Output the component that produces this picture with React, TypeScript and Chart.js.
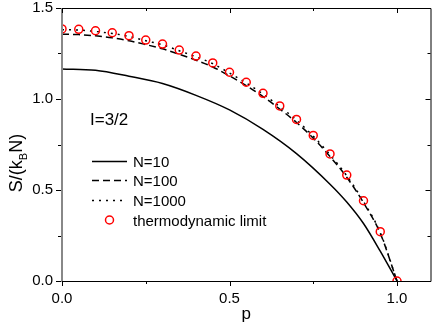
import { useEffect, useRef } from "react";
import { Chart, registerables } from "chart.js";
Chart.register(...registerables);

const pGrid = [0, 0.05, 0.1, 0.15, 0.2, 0.25, 0.3, 0.35, 0.4, 0.45, 0.5, 0.55, 0.6, 0.65, 0.7, 0.75, 0.8, 0.85, 0.9, 0.95, 1.0];
const thermoLimit = [1.385, 1.383, 1.375, 1.364, 1.348, 1.324, 1.302, 1.269, 1.236, 1.198, 1.147, 1.092, 1.031, 0.962, 0.888, 0.8, 0.698, 0.582, 0.441, 0.271, 0.0];
const n1000 = [1.381, 1.379, 1.371, 1.36, 1.344, 1.32, 1.298, 1.265, 1.232, 1.194, 1.143, 1.088, 1.027, 0.958, 0.884, 0.796, 0.694, 0.578, 0.437, 0.266, 0.0];
const n100 = [1.356, 1.354, 1.347, 1.336, 1.32, 1.299, 1.276, 1.246, 1.213, 1.176, 1.127, 1.073, 1.013, 0.945, 0.871, 0.785, 0.684, 0.57, 0.43, 0.262, 0.0];
const pN10 = [0, 0.1, 0.2, 0.3, 0.4, 0.5, 0.6, 0.7, 0.8, 0.85, 0.9, 0.95, 1.0];
const n10 = [1.165, 1.158, 1.125, 1.085, 1.02, 0.94, 0.833, 0.7, 0.532, 0.434, 0.316, 0.164, 0.0];

const xTicks = [0, 0.5, 1.0];
const xMinorTicks = [0.25, 0.75];
const yTicks = [0, 0.5, 1.0, 1.5];
const yMinorTicks = [0.25, 0.75, 1.25];
const legendLabels = ["N=10", "N=100", "N=1000", "thermodynamic limit"];
const annotationText = "I=3/2";
const xTitle = "p";

const FONT = "'Liberation Sans', Arial, sans-serif";
const dashN100 = [7, 4];
const dashN1000 = [2, 5];

const toPts = (xs: number[], ys: number[]) => xs.map((x, i) => ({ x, y: ys[i] }));

const decorPlugin = {
  id: "decor",
  afterDraw(chart: any) {
    const ctx = chart.ctx as CanvasRenderingContext2D;
    const { left, right, top, bottom } = chart.chartArea;
    const xs = chart.scales.x;
    const ys = chart.scales.y;
    ctx.save();
    // frame
    ctx.strokeStyle = "#000";
    ctx.lineWidth = 1;
    ctx.beginPath();
    ctx.moveTo(left, top + 0.5);
    ctx.lineTo(right + 0.5, top + 0.5);
    ctx.lineTo(right + 0.5, bottom + 0.5);
    ctx.lineTo(left, bottom + 0.5);
    ctx.stroke();
    ctx.strokeStyle = "#888";
    ctx.lineWidth = 2;
    ctx.beginPath();
    ctx.moveTo(left, top);
    ctx.lineTo(left, bottom + 1);
    ctx.stroke();
    // ticks
    ctx.strokeStyle = "#000";
    ctx.lineWidth = 1;
    const drawX = (v: number, len: number) => {
      const px = Math.round(xs.getPixelForValue(v)) + 0.5;
      ctx.beginPath();
      ctx.moveTo(px, bottom);
      ctx.lineTo(px, bottom + len);
      ctx.moveTo(px, top);
      ctx.lineTo(px, top + len);
      ctx.stroke();
    };
    const drawY = (v: number, len: number) => {
      const py = Math.round(ys.getPixelForValue(v)) + 0.5;
      ctx.beginPath();
      ctx.moveTo(left - 1, py);
      ctx.lineTo(left - 1 - len, py);
      ctx.moveTo(right, py);
      ctx.lineTo(right - len, py);
      ctx.stroke();
    };
    xTicks.forEach((v) => drawX(v, 5));
    xMinorTicks.forEach((v) => drawX(v, 3));
    yTicks.forEach((v) => drawY(v, 5));
    yMinorTicks.forEach((v) => drawY(v, 3));

    // texts
    ctx.fillStyle = "#000";
    ctx.textBaseline = "alphabetic";
    ctx.textAlign = "left";
    ctx.font = `17px ${FONT}`;
    ctx.fillText(annotationText, 90, 125);

    ctx.textAlign = "center";
    ctx.fillText(xTitle, (left + right) / 2, 319);

    // y title with subscript
    ctx.save();
    ctx.translate(22, 163);
    ctx.rotate(-Math.PI / 2);
    const big = `18px ${FONT}`;
    const small = `11px ${FONT}`;
    ctx.textAlign = "left";
    ctx.font = big;
    const p1 = "S/(k";
    const p3 = "N)";
    const w1 = ctx.measureText(p1).width;
    const w3 = ctx.measureText(p3).width;
    ctx.font = small;
    const w2 = ctx.measureText("B").width;
    const total = w1 + w2 + w3;
    let cx = -total / 2;
    ctx.font = big;
    ctx.fillText(p1, cx, 0);
    cx += w1;
    ctx.font = small;
    ctx.fillText("B", cx, 5);
    cx += w2;
    ctx.font = big;
    ctx.fillText(p3, cx, 0);
    ctx.restore();

    // legend
    const rows = [161, 180, 200, 220];
    const dashes = [[], dashN100, dashN1000];
    ctx.font = `15px ${FONT}`;
    ctx.textAlign = "left";
    for (let i = 0; i < 3; i++) {
      ctx.strokeStyle = "#000";
      ctx.lineWidth = 1.5;
      ctx.setLineDash(dashes[i]);
      ctx.beginPath();
      ctx.moveTo(92, rows[i] + 0.5);
      ctx.lineTo(127, rows[i] + 0.5);
      ctx.stroke();
    }
    ctx.setLineDash([]);
    ctx.strokeStyle = "#ff0000";
    ctx.lineWidth = 1.5;
    ctx.beginPath();
    ctx.arc(109.5, rows[3], 4, 0, Math.PI * 2);
    ctx.stroke();
    ctx.fillStyle = "#000";
    for (let i = 0; i < 4; i++) ctx.fillText(legendLabels[i], 133, rows[i] + 6);
    ctx.restore();
  },
};

export default function App() {
  const ref = useRef<HTMLCanvasElement>(null);
  useEffect(() => {
    if (!ref.current) return;
    const chart = new Chart(ref.current, {
      type: "line",
      data: {
        datasets: [
          {
            label: legendLabels[3],
            data: toPts(pGrid, thermoLimit),
            showLine: false,
            pointRadius: 4,
            pointBorderWidth: 1.5,
            pointBorderColor: "#ff0000",
            pointBackgroundColor: "rgba(0,0,0,0)",
          },
          {
            label: legendLabels[2],
            data: toPts(pGrid, n1000),
            borderColor: "#000",
            borderWidth: 1.5,
            borderDash: dashN1000,
            pointRadius: 0,
            cubicInterpolationMode: "monotone",
          },
          {
            label: legendLabels[1],
            data: toPts(pGrid, n100),
            borderColor: "#000",
            borderWidth: 1.5,
            borderDash: dashN100,
            pointRadius: 0,
            cubicInterpolationMode: "monotone",
          },
          {
            label: legendLabels[0],
            data: toPts(pN10, n10),
            borderColor: "#000",
            borderWidth: 1.5,
            pointRadius: 0,
            cubicInterpolationMode: "monotone",
          },
        ],
      } as any,
      options: {
        animation: false,
        responsive: false,
        devicePixelRatio: 1,
        layout: { padding: { top: 8, right: 3, left: 0, bottom: 0 } },
        plugins: { legend: { display: false }, tooltip: { enabled: false } },
        scales: {
          x: {
            type: "linear",
            min: 0,
            max: 1.1,
            afterBuildTicks: (s: any) => {
              s.ticks = xTicks.map((v) => ({ value: v }));
            },
            afterFit: (s: any) => {
              s.height = 45;
              s.paddingLeft = 0;
              s.paddingRight = 0;
            },
            grid: { display: true, drawOnChartArea: false, drawTicks: true, tickLength: 5, color: "rgba(0,0,0,0)" },
            border: { display: false },
            ticks: {
              padding: 4,
              color: "#000",
              font: { family: FONT, size: 15 },
              maxRotation: 0,
              autoSkip: false,
              callback: (v: any) => Number(v).toFixed(1),
            },
          },
          y: {
            type: "linear",
            min: 0,
            max: 1.5,
            afterBuildTicks: (s: any) => {
              s.ticks = yTicks.map((v) => ({ value: v }));
            },
            afterFit: (s: any) => {
              s.width = 62;
              s.paddingTop = 0;
              s.paddingBottom = 0;
            },
            grid: { display: true, drawOnChartArea: false, drawTicks: true, tickLength: 5, color: "rgba(0,0,0,0)" },
            border: { display: false },
            ticks: {
              padding: 4,
              color: "#000",
              font: { family: FONT, size: 15 },
              autoSkip: false,
              callback: (v: any) => Number(v).toFixed(1),
            },
          },
        },
      } as any,
      plugins: [decorPlugin],
    });
    return () => chart.destroy();
  }, []);
  return (
    <div style={{ position: "fixed", left: 0, top: 0, width: 436, height: 326, background: "#fff" }}>
      <canvas ref={ref} width={436} height={326} style={{ width: 436, height: 326 }} />
    </div>
  );
}
